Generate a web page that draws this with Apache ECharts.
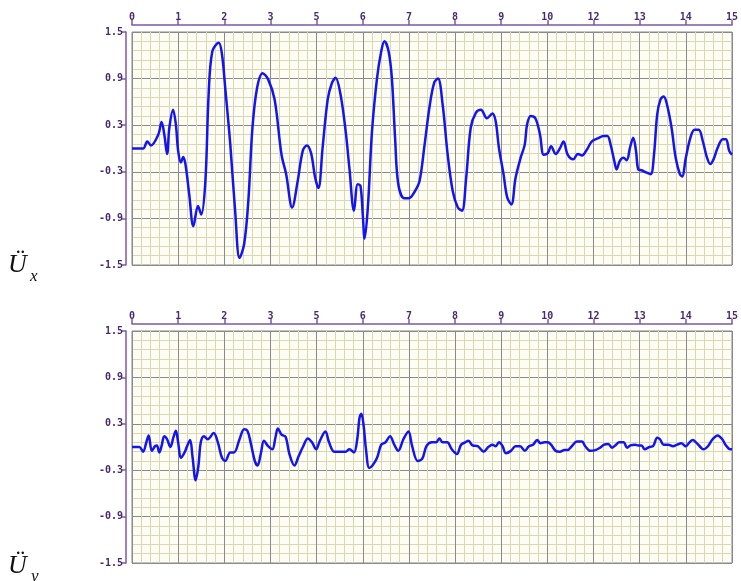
<!DOCTYPE html>
<html><head><meta charset="utf-8">
<script src="https://cdn.jsdelivr.net/npm/echarts@6/dist/echarts.min.js"></script>
<style>html,body{margin:0;padding:0;background:#fff}#c{width:741px;height:581px}</style>
</head><body><div id="c"></div>
<script>
// x tick labels (equally spaced positions 0..13)
const xTickLabels = ["0","1","2","3","5","6","7","8","9","10","12","13","14","15"];
const yTicks = [-1.5, -0.9, -0.3, 0.3, 0.9, 1.5];

// Ü_x : [position on axis, value]
const uxData = [
[0,0.0],[0.24,0.0],[0.33,0.09],[0.41,0.04],[0.57,0.18],[0.64,0.34],[0.70,0.18],[0.76,-0.07],[0.81,0.27],[0.89,0.50],[0.95,0.31],[1.0,-0.03],[1.06,-0.18],[1.11,-0.11],[1.16,-0.21],[1.24,-0.59],[1.33,-1.0],[1.43,-0.74],[1.50,-0.85],[1.59,-0.42],[1.66,0.69],[1.74,1.25],[1.88,1.36],[1.95,1.21],[2.02,0.78],[2.13,0.05],[2.24,-0.85],[2.33,-1.41],[2.43,-1.23],[2.52,-0.68],[2.61,0.27],[2.71,0.78],[2.83,0.97],[2.95,0.89],[3.09,0.63],[3.24,-0.08],[3.34,-0.33],[3.47,-0.76],[3.59,-0.42],[3.70,-0.03],[3.79,0.04],[3.88,-0.06],[3.97,-0.38],[4.04,-0.51],[4.13,0.01],[4.24,0.63],[4.33,0.84],[4.41,0.91],[4.52,0.69],[4.63,0.22],[4.71,-0.25],[4.81,-0.80],[4.89,-0.46],[4.95,-0.48],[5.0,-0.85],[5.04,-1.16],[5.11,-0.76],[5.2,0.22],[5.31,0.91],[5.40,1.25],[5.47,1.38],[5.56,1.25],[5.63,0.91],[5.70,0.14],[5.77,-0.46],[5.90,-0.64],[6.0,-0.64],[6.13,-0.55],[6.23,-0.42],[6.34,0.05],[6.45,0.55],[6.55,0.85],[6.63,0.90],[6.73,0.57],[6.84,-0.08],[6.95,-0.55],[7.06,-0.76],[7.15,-0.80],[7.24,-0.38],[7.34,0.27],[7.45,0.46],[7.56,0.50],[7.69,0.39],[7.81,0.45],[7.88,0.35],[7.95,0.01],[8.05,-0.33],[8.13,-0.63],[8.22,-0.72],[8.31,-0.38],[8.42,-0.12],[8.51,0.05],[8.56,0.31],[8.64,0.42],[8.74,0.39],[8.84,0.18],[8.92,-0.08],[9.01,-0.06],[9.08,0.03],[9.18,-0.07],[9.27,0.0],[9.35,0.09],[9.44,-0.08],[9.56,-0.14],[9.66,-0.07],[9.75,-0.09],[9.86,-0.01],[9.96,0.09],[10.09,0.13],[10.22,0.16],[10.30,0.16],[10.37,0.05],[10.45,-0.16],[10.50,-0.27],[10.57,-0.16],[10.65,-0.12],[10.72,-0.15],[10.79,0.01],[10.86,0.14],[10.92,-0.03],[10.97,-0.27],[11.04,-0.28],[11.15,-0.31],[11.24,-0.33],[11.31,-0.08],[11.38,0.44],[11.45,0.63],[11.52,0.67],[11.59,0.57],[11.69,0.27],[11.78,-0.12],[11.87,-0.33],[11.92,-0.36],[12.0,-0.12],[12.10,0.14],[12.19,0.24],[12.28,0.24],[12.37,0.09],[12.45,-0.10],[12.53,-0.20],[12.60,-0.14],[12.69,0.01],[12.80,0.12],[12.87,0.12],[12.94,-0.03],[13.0,-0.08]
];

// Ü_y
const uyData = [
[0,0.0],[0.16,0.0],[0.24,-0.06],[0.31,0.06],[0.36,0.15],[0.43,-0.05],[0.5,0.01],[0.54,0.02],[0.59,-0.07],[0.64,0.01],[0.70,0.14],[0.76,0.10],[0.83,0.0],[0.90,0.13],[0.95,0.21],[1.0,0.06],[1.06,-0.14],[1.14,-0.07],[1.20,0.02],[1.26,0.09],[1.31,-0.12],[1.38,-0.43],[1.44,-0.24],[1.49,0.06],[1.56,0.14],[1.64,0.10],[1.77,0.18],[1.86,0.06],[1.95,-0.14],[2.02,-0.18],[2.13,-0.07],[2.21,-0.07],[2.33,0.10],[2.43,0.23],[2.50,0.21],[2.57,0.06],[2.66,-0.18],[2.72,-0.24],[2.79,-0.09],[2.86,0.08],[2.95,0.01],[3.04,-0.03],[3.11,0.13],[3.16,0.24],[3.24,0.16],[3.33,0.13],[3.41,-0.09],[3.52,-0.24],[3.61,-0.12],[3.71,0.01],[3.81,0.11],[3.90,0.06],[3.99,-0.03],[4.07,0.08],[4.19,0.20],[4.27,0.06],[4.38,-0.06],[4.49,-0.06],[4.63,-0.06],[4.71,-0.03],[4.81,-0.07],[4.88,0.10],[4.93,0.38],[4.97,0.43],[5.02,0.27],[5.07,-0.03],[5.14,-0.27],[5.21,-0.24],[5.31,-0.14],[5.40,0.03],[5.49,0.06],[5.59,0.14],[5.69,0.02],[5.77,-0.05],[5.88,0.10],[5.99,0.20],[6.07,0.01],[6.19,-0.18],[6.29,-0.15],[6.38,0.01],[6.50,0.06],[6.59,0.06],[6.66,0.11],[6.73,0.06],[6.83,0.06],[6.93,-0.03],[7.04,-0.09],[7.13,0.03],[7.22,0.06],[7.29,0.08],[7.38,0.02],[7.49,0.01],[7.62,-0.06],[7.72,0.0],[7.81,0.03],[7.88,0.01],[7.95,0.06],[8.03,0.01],[8.10,-0.08],[8.21,-0.05],[8.31,0.01],[8.41,0.01],[8.51,-0.05],[8.60,0.01],[8.69,0.03],[8.78,0.09],[8.85,0.05],[8.94,0.06],[9.01,0.06],[9.08,0.03],[9.18,-0.05],[9.27,-0.06],[9.37,-0.04],[9.44,-0.04],[9.53,0.01],[9.64,0.07],[9.75,0.07],[9.82,0.01],[9.93,-0.05],[10.04,-0.04],[10.14,-0.01],[10.23,0.03],[10.32,0.04],[10.40,-0.01],[10.47,0.02],[10.56,0.06],[10.65,0.06],[10.73,-0.01],[10.80,0.02],[10.90,0.03],[10.97,0.02],[11.04,0.02],[11.11,-0.03],[11.21,0.0],[11.29,0.01],[11.38,0.12],[11.44,0.10],[11.52,0.03],[11.62,0.03],[11.72,0.01],[11.81,0.03],[11.90,0.05],[12.0,0.01],[12.08,0.06],[12.15,0.09],[12.22,0.06],[12.30,0.01],[12.38,-0.03],[12.48,0.01],[12.58,0.10],[12.69,0.15],[12.79,0.10],[12.87,0.02],[12.96,-0.03],[13.0,-0.03]
];

const axisPurple = '#7b5aa6';
const labelColor = '#4a2a6e';
const labelFont = {fontFamily:'DejaVu Sans Mono', fontWeight:'bold', fontSize:10, color:labelColor};

function xAxisFor(gi){
  return {
    type:'value', gridIndex:gi, position:'top', min:0, max:xTickLabels.length-1, interval:1, offset:7,
    axisLine:{show:true, onZero:false, lineStyle:{color:axisPurple, width:1.5}},
    axisTick:{show:true, inside:false, length:5, lineStyle:{color:axisPurple, width:1.5}},
    axisLabel:Object.assign({margin:3, formatter:v=>xTickLabels[Math.round(v)]}, labelFont),
    splitLine:{show:true, lineStyle:{color:'#8a8a8a', width:1}},
    minorTick:{show:false, splitNumber:5},
    minorSplitLine:{show:true, lineStyle:{color:'#dad8b4', width:1}}
  };
}
function yAxisFor(gi){
  return {
    type:'value', gridIndex:gi, min:yTicks[0], max:yTicks[yTicks.length-1], interval:0.6, offset:6,
    axisLine:{show:true, onZero:false, lineStyle:{color:axisPurple, width:1.5}},
    axisTick:{show:true, inside:false, length:5, lineStyle:{color:axisPurple, width:1.5}},
    axisLabel:Object.assign({margin:3, formatter:v=>v.toFixed(1)}, labelFont),
    splitLine:{show:true, lineStyle:{color:'#8a8a8a', width:1}},
    minorTick:{show:false, splitNumber:5},
    minorSplitLine:{show:true, lineStyle:{color:'#dad8b4', width:1}}
  };
}

const chart = echarts.init(document.getElementById('c'), null, {renderer:'canvas'});
chart.setOption({
  animation:false,
  backgroundColor:'#ffffff',
  grid:[
    {left:132, top:32, width:604, height:233, show:true, backgroundColor:'#fdfdf4', borderColor:'#8a8a8a', borderWidth:1},
    {left:132, top:331, width:604, height:232, show:true, backgroundColor:'#fdfdf4', borderColor:'#8a8a8a', borderWidth:1}
  ],
  xAxis:[xAxisFor(0), xAxisFor(1)],
  yAxis:[yAxisFor(0), yAxisFor(1)],
  series:[
    {type:'line', xAxisIndex:0, yAxisIndex:0, data:uxData, showSymbol:false, smooth:0.35,
     lineStyle:{color:'#1414f0', width:2.5}},
    {type:'line', xAxisIndex:1, yAxisIndex:1, data:uyData, showSymbol:false, smooth:0.35,
     lineStyle:{color:'#1414f0', width:2.5}}
  ],
  graphic:[
    {type:'text', left:8, top:252, style:{text:'Ü', font:'italic 26px "Liberation Serif"', fill:'#111'}},
    {type:'text', left:30, top:268, style:{text:'x', font:'italic 17px "Liberation Serif"', fill:'#111'}},
    {type:'text', left:8, top:553, style:{text:'Ü', font:'italic 26px "Liberation Serif"', fill:'#111'}},
    {type:'text', left:31, top:568, style:{text:'y', font:'italic 17px "Liberation Serif"', fill:'#111'}}
  ]
});
</script>
</body></html>
